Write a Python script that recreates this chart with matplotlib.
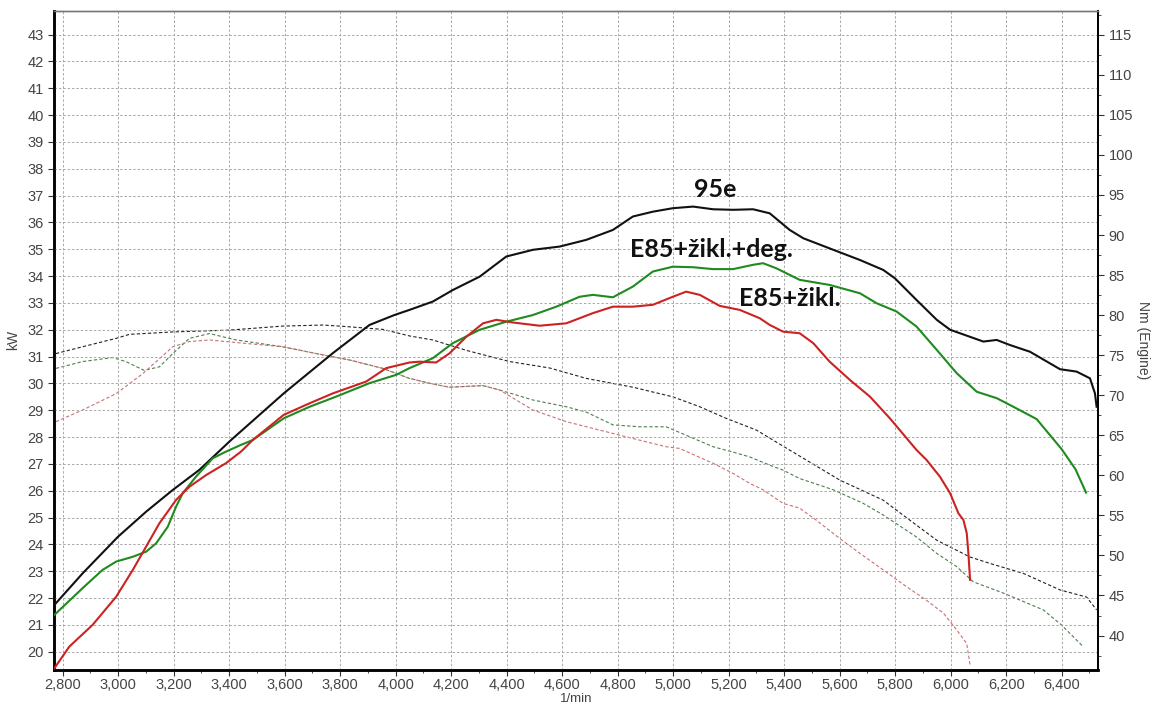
import matplotlib
matplotlib.use("Agg")
import matplotlib.pyplot as plt
from matplotlib.ticker import FuncFormatter, MultipleLocator

plt.rcParams['font.family'] = ['Liberation Sans', 'DejaVu Sans']

# ---- Power (kW), solid lines ----
rpm_95e = [2770, 2872, 3000, 3101, 3197, 3293, 3407, 3597, 3774, 3906, 3996, 4050, 4134, 4206,
           4303, 4399, 4495, 4591, 4687, 4783, 4855, 4927, 4999, 5072, 5144, 5216, 5288, 5348,
           5420, 5469, 5577, 5673, 5757, 5799, 5877, 5950, 5998, 6118, 6166, 6214, 6286, 6394,
           6454, 6502, 6520, 6526]
kw_95e = [21.74, 22.92, 24.29, 25.22, 26.03, 26.78, 27.89, 29.63, 31.13, 32.18, 32.55, 32.74, 33.05, 33.48,
          33.98, 34.73, 34.98, 35.10, 35.35, 35.72, 36.22, 36.40, 36.53, 36.59, 36.49, 36.47, 36.49, 36.34,
          35.72, 35.41, 34.98, 34.60, 34.23, 33.92, 33.11, 32.37, 32.00, 31.56, 31.62, 31.43, 31.18, 30.53,
          30.44, 30.19, 29.63, 29.13]

rpm_deg = [2770, 2872, 2944, 2993, 3053, 3101, 3137, 3179, 3209, 3233, 3281, 3341, 3389, 3443, 3485,
           3597, 3690, 3786, 3906, 4002, 4050, 4134, 4206, 4303, 4399, 4495, 4579, 4663, 4711, 4783,
           4855, 4927, 4999, 5072, 5144, 5216, 5288, 5324, 5372, 5456, 5564, 5673, 5733, 5805, 5877,
           5950, 6022, 6094, 6166, 6226, 6310, 6400, 6450, 6488]
kw_deg = [21.37, 22.37, 23.05, 23.36, 23.54, 23.73, 24.04, 24.66, 25.41, 25.91, 26.53, 27.21, 27.46, 27.71, 27.89,
          28.70, 29.13, 29.51, 30.01, 30.32, 30.57, 30.94, 31.50, 32.00, 32.30, 32.55, 32.86, 33.23, 33.30, 33.21,
          33.61, 34.17, 34.35, 34.33, 34.26, 34.26, 34.42, 34.48, 34.29, 33.86, 33.67, 33.36, 32.99, 32.68, 32.12,
          31.25, 30.38, 29.69, 29.45, 29.13, 28.67, 27.55, 26.80, 25.93]

rpm_zikl = [2770, 2824, 2908, 2993, 3053, 3101, 3149, 3209, 3257, 3318, 3389, 3443, 3485, 3597, 3690,
            3774, 3894, 3966, 4050, 4086, 4146, 4194, 4255, 4315, 4363, 4423, 4519, 4615, 4711, 4783,
            4855, 4927, 4999, 5047, 5096, 5168, 5240, 5312, 5348, 5396, 5456, 5505, 5564, 5637, 5709,
            5781, 5877, 5913, 5961, 5998, 6028, 6046, 6058, 6064, 6070]
kw_zikl = [19.38, 20.19, 21.00, 22.05, 23.05, 23.92, 24.79, 25.66, 26.15, 26.59, 27.03, 27.46, 27.89, 28.83, 29.26,
           29.63, 30.07, 30.57, 30.78, 30.81, 30.78, 31.12, 31.74, 32.24, 32.37, 32.27, 32.15, 32.24, 32.62, 32.86,
           32.86, 32.93, 33.23, 33.42, 33.30, 32.89, 32.74, 32.43, 32.18, 31.93, 31.87, 31.50, 30.81, 30.13, 29.51,
           28.70, 27.52, 27.15, 26.53, 25.91, 25.16, 24.91, 24.42, 23.67, 22.68]

# ---- Torque (Nm), dashed lines ----
rpm_95e_t = [2776, 2872, 2993, 3041, 3197, 3401, 3593, 3738, 3798, 3954, 4050, 4134, 4255, 4411, 4555,
             4687, 4855, 4999, 5096, 5192, 5300, 5420, 5601, 5757, 5853, 5950, 6070, 6142, 6262, 6394,
             6490, 6526]
nm_95e_t = [75.2, 76.05, 77.1, 77.6, 77.9, 78.13, 78.63, 78.76, 78.63, 78.22, 77.4, 76.9, 75.6, 74.2, 73.4,
            72.1, 71.0, 69.8, 68.56, 67.1, 65.65, 63.15, 59.4, 56.9, 54.4, 51.9, 49.8, 49.0, 47.76, 45.7,
            44.8, 43.2]

rpm_deg_t = [2776, 2872, 2980, 3028, 3094, 3149, 3197, 3257, 3329, 3425, 3593, 3714, 3834, 3954, 4050,
             4134, 4194, 4315, 4375, 4495, 4615, 4687, 4783, 4879, 4975, 5047, 5144, 5216, 5276, 5348,
             5396, 5456, 5577, 5685, 5757, 5877, 5950, 6022, 6082, 6190, 6334, 6400, 6478]
nm_deg_t = [73.35, 74.2, 74.7, 74.2, 73.1, 73.55, 75.2, 77.1, 77.7, 76.9, 76.05, 75.2, 74.4, 73.35, 72.1,
            71.4, 71.0, 71.2, 70.65, 69.4, 68.56, 67.9, 66.3, 66.06, 66.06, 65.0, 63.57, 62.9, 62.3, 61.27,
            60.65, 59.6, 58.2, 56.5, 55.05, 52.3, 50.26, 48.6, 46.7, 45.3, 43.2, 41.3, 38.6]

rpm_zikl_t = [2776, 2872, 2993, 3089, 3197, 3257, 3329, 3449, 3593, 3714, 3834, 3954, 4050, 4134, 4194,
              4315, 4375, 4495, 4615, 4735, 4855, 4975, 5023, 5144, 5216, 5276, 5324, 5396, 5456, 5516,
              5601, 5673, 5757, 5841, 5913, 5974, 6022, 6058, 6070]
nm_zikl_t = [66.7, 68.15, 70.2, 72.7, 76.05, 76.7, 76.9, 76.5, 76.05, 75.2, 74.4, 73.35, 72.1, 71.4, 71.0,
             71.2, 70.65, 68.15, 66.7, 65.65, 64.6, 63.57, 63.36, 61.5, 60.24, 59.0, 58.2, 56.5, 55.9, 54.4,
             52.1, 50.26, 48.2, 46.1, 44.4, 42.8, 40.7, 39.0, 36.3]

labels = ["95e", "E85+žikl.+deg.", "E85+žikl."]
label_pos_rpm = [5150, 5139, 5420]
label_pos_kw = [37.21, 35.0, 33.18]

c_black = "#111111"
c_green = "#1f8a1f"
c_red = "#cc2222"

fig = plt.figure(figsize=(11.51, 7.06), dpi=100)
ax = fig.add_axes([54 / 1151, 36 / 706, (1098 - 54) / 1151, (670 - 10.7) / 706])
ax2 = ax.twinx()

ax.set_xlim(2769, 6531)
ax.set_ylim(19.32, 43.89)
ax2.set_ylim(35.7, 118.0)

# grid
ax.xaxis.set_major_locator(MultipleLocator(200))
ax.xaxis.set_minor_locator(MultipleLocator(100))
ax.yaxis.set_major_locator(MultipleLocator(1))
ax2.yaxis.set_major_locator(MultipleLocator(5))
ax2.yaxis.set_minor_locator(MultipleLocator(2.5))
ax.grid(True, which='major', color='#a8a8a8', linestyle=(0, (2.5, 2)), linewidth=0.7)
ax.set_axisbelow(True)

# torque dashed
ax2.plot(rpm_95e_t, nm_95e_t, color="#222222", lw=0.8, ls=(0, (3, 2)))
ax2.plot(rpm_deg_t, nm_deg_t, color="#4d7f4d", lw=0.8, ls=(0, (3, 2)))
ax2.plot(rpm_zikl_t, nm_zikl_t, color="#cc7070", lw=0.8, ls=(0, (3, 2)))

# power solid
ax.plot(rpm_95e, kw_95e, color=c_black, lw=1.5, zorder=5)
ax.plot(rpm_deg, kw_deg, color=c_green, lw=1.5, zorder=5)
ax.plot(rpm_zikl, kw_zikl, color=c_red, lw=1.5, zorder=5)
ax.set_zorder(ax2.get_zorder() + 1)
ax.patch.set_visible(False)

for t, xr, yk in zip(labels, label_pos_rpm, label_pos_kw):
    ax.text(xr, yk, t, ha='center', va='center', fontsize=18, fontweight='bold',
            family=['Lato', 'DejaVu Sans'], color='#111111', zorder=6)

ax.xaxis.set_major_formatter(FuncFormatter(lambda v, p: f"{int(v):,}"))
tick_col = '#444444'
ax.tick_params(axis='both', which='major', labelsize=10.5, labelcolor=tick_col, color='#333333', length=4)
ax.tick_params(axis='x', which='major', pad=2)
ax.tick_params(axis='x', which='minor', length=2, color='#333333')
ax2.tick_params(axis='y', which='major', labelsize=10.5, labelcolor=tick_col, color='#333333', length=4)
ax2.tick_params(axis='y', which='minor', length=2, color='#333333')

for a in (ax, ax2):
    a.spines['left'].set_linewidth(1.8)
    a.spines['bottom'].set_linewidth(1.8)
    a.spines['right'].set_linewidth(1.3)
    a.spines['top'].set_color('#777777')
    a.spines['top'].set_linewidth(1.0)

fig.text(576 / 1151, 1 - 699.5 / 706, "1/min", ha='center', va='center', fontsize=9.5, color=tick_col)
ax.set_ylabel("kW", fontsize=10, color=tick_col, labelpad=5)
ax2.set_ylabel("Nm (Engine)", fontsize=10, color=tick_col, rotation=270, labelpad=12)

fig.savefig("out.png", dpi=100)
